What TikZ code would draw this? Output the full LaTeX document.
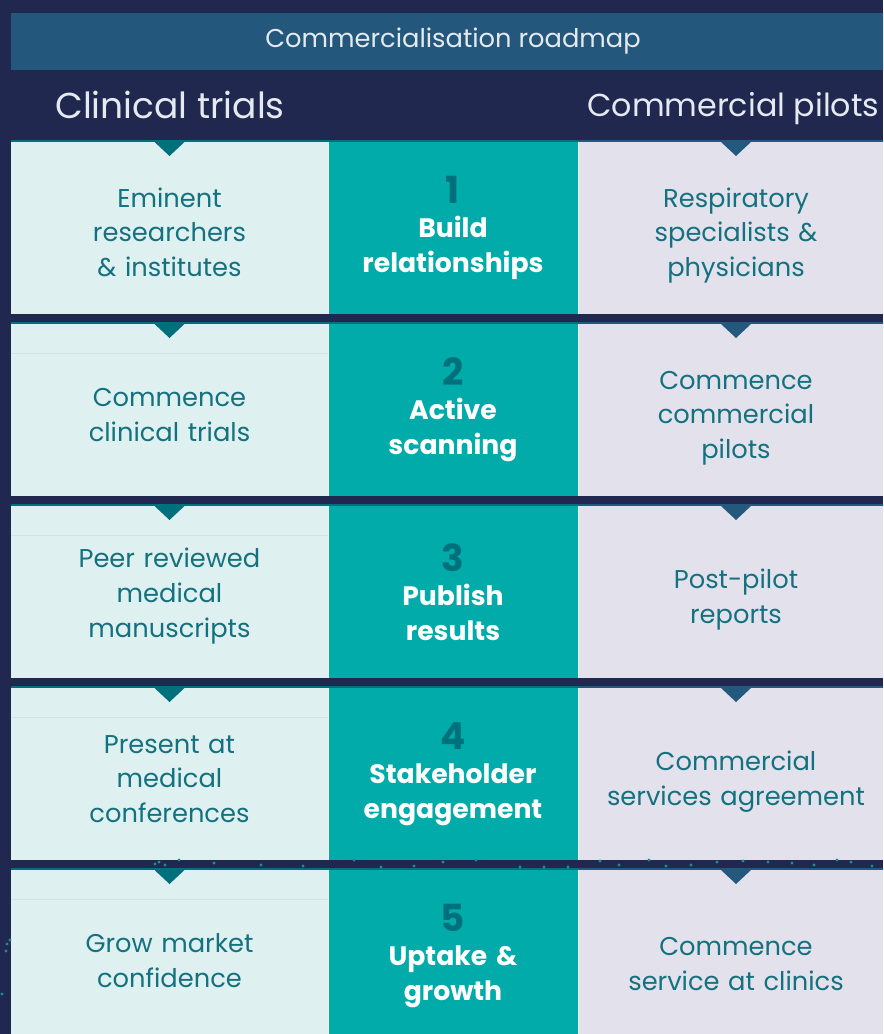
\documentclass[tikz,border=0pt]{standalone}
\usepackage{fontspec}
\setmainfont{Poppins}
\usetikzlibrary{calc,positioning}

\definecolor{navybg}{HTML}{20284F}
\definecolor{titlebar}{HTML}{23577B}
\definecolor{headtext}{HTML}{E4EAF0}
\definecolor{trialfill}{HTML}{DFF0F0}
\definecolor{stepfill}{HTML}{00ABA9}
\definecolor{pilotfill}{HTML}{E3E2EC}
\definecolor{celltext}{HTML}{14717F}
\definecolor{darkteal}{HTML}{00707C}
\definecolor{darkblue}{HTML}{23597D}
\definecolor{faintline}{HTML}{D0E4E6}
\definecolor{dotteal}{HTML}{1E8C95}

\begin{document}
\begin{tikzpicture}[x=0.75pt, y=-0.75pt, node distance=0pt,
    cell/.style={inner sep=0pt, outer sep=0pt, minimum height=129pt, align=center},
    trialcell/.style={cell, fill=trialfill, minimum width=237.75pt, text width=234pt,
        text=celltext, font=\fontsize{19.3}{26}\selectfont, execute at begin node={\rule{0pt}{21pt}}},
    stepcell/.style={cell, fill=stepfill, minimum width=187.5pt, text width=184pt,
        text=white, font=\fontsize{20}{26}\selectfont\bfseries},
    pilotcell/.style={cell, fill=pilotfill, minimum width=237pt, text width=234pt,
        text=celltext, font=\fontsize{19.3}{26}\selectfont, execute at begin node={\rule{0pt}{26pt}}},
    heading/.style={inner sep=0pt, anchor=base west, text=headtext, font=\fontsize{27}{32}\selectfont}]

    \clip (0,0) rectangle (883,1034);
    \fill[navybg] (0,0) rectangle (883,1034);

    \node[fill=titlebar, minimum width=663pt, minimum height=42.75pt, inner sep=0pt,
        text=headtext, font=\fontsize{19.3}{22}\selectfont] (title) at (453,41.5) {Commercialisation roadmap};
    \node[heading] (trials) at (55,119) {Clinical trials};
    \node[heading, font=\fontsize{23.8}{30}\selectfont] (pilots) at (587,117) {Commercial pilots};

    \node[trialcell, anchor=north west] (L1) at (11,142) {Eminent\\researchers\\\& institutes};
    \node[stepcell, right=of L1] (M1) {\textcolor{darkteal}{\fontsize{28}{30}\selectfont 1}\\[-0.5pt]Build\\relationships};
    \node[pilotcell, right=of M1] (R1) {Respiratory\\specialists \&\\physicians};

    \node[trialcell, below=7.5pt of L1] (L2) {Commence\\clinical trials};
    \node[stepcell, right=of L2] (M2) {\textcolor{darkteal}{\fontsize{28}{30}\selectfont 2}\\[-0.5pt]Active\\scanning};
    \node[pilotcell, right=of M2] (R2) {Commence\\commercial\\pilots};

    \node[trialcell, below=7.5pt of L2] (L3) {Peer reviewed\\medical\\manuscripts};
    \node[stepcell, right=of L3] (M3) {\textcolor{darkteal}{\fontsize{28}{30}\selectfont 3}\\[-0.5pt]Publish\\results};
    \node[pilotcell, right=of M3] (R3) {Post-pilot\\reports};

    \node[trialcell, below=7.5pt of L3] (L4) {Present at\\medical\\conferences};
    \node[stepcell, right=of L4] (M4) {\textcolor{darkteal}{\fontsize{28}{30}\selectfont 4}\\[-0.5pt]Stakeholder\\engagement};
    \node[pilotcell, right=of M4] (R4) {Commercial\\services agreement};

    \node[trialcell, below=7.5pt of L4] (L5) {Grow market\\confidence};
    \node[stepcell, right=of L5] (M5) {\textcolor{darkteal}{\fontsize{28}{30}\selectfont 5}\\[-0.5pt]Uptake \&\\growth};
    \node[pilotcell, right=of M5] (R5) {Commence\\service at clinics};

    \foreach \r in {1,...,5} {
        \fill[darkteal] ($(L\r.north west)+(0,-2)$) rectangle (M\r.north east);
        \fill[darkblue] ($(R\r.north west)+(0,-2)$) rectangle (R\r.north east);
        \fill[darkteal] ($(L\r.north)+(-15,0)$) -- ($(L\r.north)+(15,0)$) -- ($(L\r.north)+(0,14)$) -- cycle;
        \fill[darkblue] ($(R\r.north)+(-15,0)$) -- ($(R\r.north)+(15,0)$) -- ($(R\r.north)+(0,14)$) -- cycle;
        \draw[white!70!trialfill, line width=0.75pt] (L\r.north east) -- (L\r.south east);
        \draw[white!70!pilotfill, line width=0.75pt] (R\r.north west) -- (R\r.south west);
    }
    \foreach \r in {2,...,5}
        \draw[faintline, line width=0.75pt] ($(L\r.north west)+(0,29)$) -- ($(L\r.north east)+(0,29)$);

    \foreach \dx/\dy in {155/864, 159/862, 165/865, 179/860, 214/863, 261/865, 303/866, 354/860,
        381/867, 414/866, 443/862, 476/860, 520/867, 544/867, 568/867, 600/861, 619/865, 649/860,
        666/866, 691/865, 717/862, 743/861, 768/862, 792/863, 814/865, 837/860, 851/862, 872/866,
        10/940, 7/944, 6/951, 2/994}
        \fill[dotteal] (\dx,\dy) circle (1.2pt);
\end{tikzpicture}
\end{document}
